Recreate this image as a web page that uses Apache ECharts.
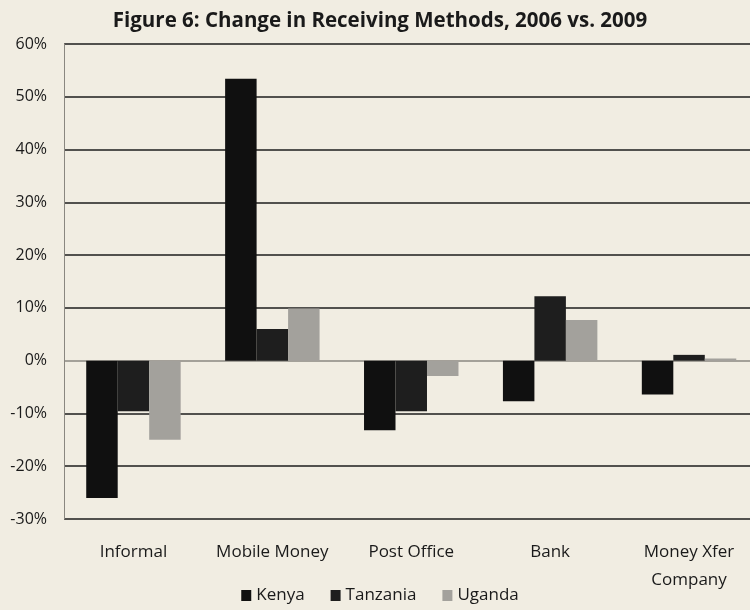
<!DOCTYPE html>
<html>
<head>
<meta charset="utf-8">
<script src="https://cdn.jsdelivr.net/npm/echarts@6/dist/echarts.min.js"></script>
<style>
html,body{margin:0;padding:0;background:#f1ede2;overflow:hidden;}
#chart{width:760px;height:610px;}
</style>
</head>
<body>
<div id="chart"></div>
<script>
const categories = ['Informal', 'Mobile Money', 'Post Office', 'Bank', 'Money Xfer\nCompany'];
const kenya = [-26.0, 53.4, -13.2, -7.7, -6.4];
const tanzania = [-9.6, 6.0, -9.6, 12.2, 1.1];
const uganda = [-15.0, 9.9, -2.9, 7.7, 0.4];
const yTicks = [-30, -20, -10, 0, 10, 20, 30, 40, 50, 60];

const chart = echarts.init(document.getElementById('chart'), null, {renderer: 'canvas'});
const font = '"Open Sans", Lato, sans-serif';
const lineColors = yTicks.map(v => v === 0 ? '#8a8780' : '#1c1c1c');
chart.setOption({
  backgroundColor: '#f1ede2',
  animation: false,
  title: {
    text: 'Figure 6: Change in Receiving Methods, 2006 vs. 2009',
    left: 'center', top: 6,
    textStyle: {fontFamily: font, fontSize: 20.5, fontWeight: 'bold', color: '#1a1a1a'}
  },
  legend: {
    bottom: 1, left: 'center', itemWidth: 10, itemHeight: 11, itemGap: 26,
    icon: 'rect',
    textStyle: {fontFamily: font, fontSize: 17, color: '#1a1a1a'},
    data: ['Kenya', 'Tanzania', 'Uganda']
  },
  grid: {left: 64, right: 1.5, top: 44, bottom: 91, containLabel: false},
  xAxis: {
    type: 'category', data: categories,
    axisLine: {show: false, onZero: false},
    axisTick: {show: false},
    axisLabel: {fontFamily: font, fontSize: 17, color: '#1a1a1a', margin: 19, lineHeight: 28, interval: 0}
  },
  yAxis: {
    type: 'value', min: -30, max: 60, interval: 10,
    axisLine: {show: true, lineStyle: {color: '#8a8780', width: 1}},
    axisTick: {show: false},
    axisLabel: {fontFamily: font, fontSize: 16, color: '#1a1a1a', margin: 17, formatter: v => v + '%'},
    splitLine: {show: true, lineStyle: {color: lineColors, width: 1.6}}
  },
  series: [
    {name: 'Kenya', type: 'bar', data: kenya, barGap: '0%', barCategoryGap: '32%', itemStyle: {color: '#101010'}},
    {name: 'Tanzania', type: 'bar', data: tanzania, itemStyle: {color: '#1e1e1e'}},
    {name: 'Uganda', type: 'bar', data: uganda, itemStyle: {color: '#a3a19c'}}
  ]
});
</script>
</body>
</html>
